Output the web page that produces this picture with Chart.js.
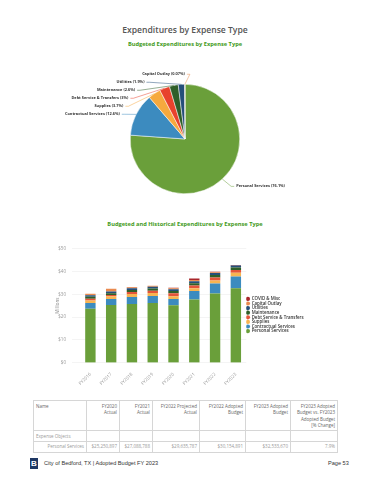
<!DOCTYPE html>
<html>
<head>
<meta charset="utf-8">
<script src="https://cdn.jsdelivr.net/npm/chart.js@4.4.1/dist/chart.umd.min.js"></script>
<style>
    html, body { margin: 0; padding: 0; background: #fff; }
    body { width: 370px; height: 480px; position: relative; overflow: hidden; font-family: "Open Sans", sans-serif; }
    .abs { position: absolute; }
    .title { left: 0; width: 370px; top: 24px; text-align: center; font-size: 8.6px; font-weight: 600; color: #555; }
    .sub { left: 0; width: 370px; text-align: center; font-size: 5.7px; font-weight: 700; color: #3f9a22; }
    #pieBox { left: 0; top: 64px; width: 370px; height: 150px; }
    #barBox { left: 0; top: 240px; width: 370px; height: 150px; }
    table { position: absolute; left: 33px; top: 400px; width: 304px; border-collapse: collapse; table-layout: fixed; font-size: 4.5px; color: #666; }
    td { border: 0.6px solid #d6d6d6; padding: 1.5px 2px; vertical-align: top; text-align: right; line-height: 6.6px; }
    td.l { text-align: left; }
    .row td { color: #999; }
    .logo { left: 30px; top: 458px; width: 8px; height: 11px; background: #1f3864; color: #fff; font: bold 8px "Liberation Sans", sans-serif; text-align: center; line-height: 11px; }
    .foot { top: 460px; font-size: 5.6px; color: #333; font-family: "Liberation Sans", sans-serif; }
</style>
</head>
<body>
<div class="abs title">Expenditures by Expense Type</div>
<div class="abs sub" style="top:40px">Budgeted Expenditures by Expense Type</div>
<div class="abs" id="pieBox"><canvas id="pieChart"></canvas></div>
<div class="abs sub" style="top:220px">Budgeted and Historical Expenditures by Expense Type</div>
<div class="abs" id="barBox"><canvas id="barChart"></canvas></div>

<table>
    <colgroup>
        <col style="width:53px"><col style="width:33px"><col style="width:33px"><col style="width:47px">
        <col style="width:46px"><col style="width:45px"><col style="width:47px">
    </colgroup>
    <tr style="height:29px">
        <td class="l">Name</td>
        <td>FY2020<br>Actual</td>
        <td>FY2021<br>Actual</td>
        <td>FY2022 Projected<br>Actual</td>
        <td>FY2022 Adopted<br>Budget</td>
        <td>FY2023 Adopted<br>Budget</td>
        <td>FY2023 Adopted<br>Budget vs. FY2023<br>Adopted Budget<br>[% Change]</td>
    </tr>
    <tr class="row"><td class="l">Expense Objects</td><td></td><td></td><td></td><td></td><td></td><td></td></tr>
    <tr class="row">
        <td>Personal Services</td><td>$25,250,897</td><td>$27,088,788</td><td>$29,635,787</td>
        <td>$30,154,891</td><td>$32,533,670</td><td>7.9%</td>
    </tr>
</table>

<div class="abs logo">B</div>
<div class="abs foot" style="left:44px">City of Bedford, TX | Adopted Budget FY 2023</div>
<div class="abs foot" style="left:328px">Page 53</div>

<script>
// 파이 차트 데이터 (FY2023 예산 비율)
const pieLabels = ['Personal Services', 'Contractual Services', 'Supplies', 'Debt Service & Transfers', 'Maintenance', 'Utilities', 'Capital Outlay'];
const pieShares = [76.1, 12.6, 3.7, 3, 2.6, 1.9, 0.07];
const pieColors = ['#6a9f3a', '#3c8bbf', '#f6a93e', '#e8432d', '#2f5f29', '#254f7a', '#e98a4f'];

// 누적 막대 차트 데이터 (백만 달러)
const years = ['FY2016', 'FY2017', 'FY2018', 'FY2019', 'FY2020', 'FY2021', 'FY2022', 'FY2023'];
const personal = [23.7, 25.3, 25.8, 26.2, 25.2, 27.7, 30.4, 32.6];
const contractual = [2.5, 2.6, 3.0, 3.1, 2.7, 3.7, 4.3, 5.2];
const supplies = [1.1, 1.2, 1.3, 1.3, 1.2, 1.3, 1.4, 1.6];
const debtService = [0.8, 0.6, 0.9, 1.0, 1.4, 1.2, 1.3, 1.3];
const maintenance = [0.8, 0.8, 0.9, 0.9, 0.9, 1.0, 1.1, 1.1];
const utilities = [0.7, 0.7, 0.7, 0.8, 0.8, 0.8, 0.8, 0.8];
const capitalOutlay = [0.6, 1.2, 0.5, 0.4, 0.4, 0.6, 0.4, 0.03];
const covidMisc = [0, 0, 0.1, 0.1, 0.3, 0.6, 0.2, 0.2];
const yTicks = [0, 10, 20, 30, 40, 50];

// 파이 라벨 + 연결선 플러그인
const pieLabelPlugin = {
    id: 'pieLabels',
    afterDatasetsDraw(chart) {
        const ctx = chart.ctx;
        const arcs = chart.getDatasetMeta(0).data;
        const left = [], right = [];
        arcs.forEach((arc, i) => {
            const mid = (arc.startAngle + arc.endAngle) / 2;
            const r = arc.outerRadius;
            const item = {
                i: i, cx: arc.x, cy: arc.y, r: r,
                ax: arc.x + r * Math.cos(mid),
                ay: arc.y + r * Math.sin(mid),
                y: arc.y + (r + 10) * Math.sin(mid)
            };
            (Math.cos(mid) < 0 ? left : right).push(item);
        });
        left.sort((a, b) => a.y - b.y);
        for (let k = 1; k < left.length; k++) {
            left[k].y = Math.max(left[k].y, left[k - 1].y + 8);
        }
        ctx.save();
        ctx.font = 'bold 3.9px "Open Sans"';
        ctx.textBaseline = 'middle';
        ctx.lineWidth = 0.5;
        const draw = (it, side) => {
            const R = it.r + 15;
            const dy = it.y - it.cy;
            let x = it.cx + side * Math.sqrt(Math.max(0, R * R - dy * dy));
            if (side < 0 && Math.abs(it.ax - it.cx) < 1) x = it.ax;
            ctx.strokeStyle = pieColors[it.i];
            ctx.beginPath();
            ctx.moveTo(x - side * 2, it.y);
            ctx.lineTo(x - side * 5, it.y);
            ctx.lineTo(it.ax, it.ay);
            ctx.stroke();
            ctx.fillStyle = '#333';
            ctx.textAlign = side < 0 ? 'right' : 'left';
            ctx.fillText(pieLabels[it.i] + ' (' + pieShares[it.i] + '%)', x, it.y);
        };
        left.forEach(it => draw(it, -1));
        right.forEach(it => draw(it, 1));
        ctx.restore();
    }
};

new Chart(document.getElementById('pieChart'), {
    type: 'pie',
    data: {
        labels: pieLabels,
        datasets: [{
            data: pieShares,
            backgroundColor: pieColors,
            borderColor: '#fff',
            borderWidth: 0.5
        }]
    },
    options: {
        responsive: true,
        maintainAspectRatio: false,
        animation: false,
        layout: { padding: { top: 20, bottom: 20 } },
        plugins: { legend: { display: false }, tooltip: { enabled: false } }
    },
    plugins: [pieLabelPlugin]
});

// 누적 막대 차트
const barSeries = [
    ['Personal Services', personal, '#6a9f3a'],
    ['Contractual Services', contractual, '#3c8bbf'],
    ['Supplies', supplies, '#f7b451'],
    ['Debt Service & Transfers', debtService, '#e4553a'],
    ['Maintenance', maintenance, '#2f5f29'],
    ['Utilities', utilities, '#254f7a'],
    ['Capital Outlay', capitalOutlay, '#e98a4f'],
    ['COVID & Misc', covidMisc, '#a8262b']
];

new Chart(document.getElementById('barChart'), {
    type: 'bar',
    data: {
        labels: years,
        datasets: barSeries.map(s => ({
            label: s[0],
            data: s[1],
            backgroundColor: s[2],
            borderWidth: 0,
            barPercentage: 0.5,
            categoryPercentage: 1
        }))
    },
    options: {
        responsive: true,
        maintainAspectRatio: false,
        animation: false,
        layout: { padding: { left: 55, right: 60, top: 0, bottom: 0 } },
        plugins: {
            tooltip: { enabled: false },
            legend: {
                position: 'right',
                reverse: true,
                labels: {
                    usePointStyle: true,
                    pointStyle: 'circle',
                    boxWidth: 3,
                    boxHeight: 3,
                    padding: 0.2,
                    color: '#333',
                    font: { family: 'Open Sans', size: 4.4, weight: '600' }
                }
            }
        },
        scales: {
            x: {
                stacked: true,
                grid: { display: false },
                border: { display: false },
                ticks: { minRotation: 45, maxRotation: 45, color: '#999', font: { family: 'Open Sans', size: 4.5 }, padding: 1 },
                afterFit(s) { s.height = 27.3; }
            },
            y: {
                stacked: true,
                min: 0,
                max: 50,
                afterBuildTicks(s) { s.ticks = yTicks.map(v => ({ value: v })); },
                grid: { color: '#ececec', lineWidth: 0.6 },
                border: { display: false },
                title: { display: true, text: 'Millions', color: '#888', font: { family: 'Open Sans', size: 4.5 }, padding: 0 },
                ticks: { color: '#999', font: { family: 'Open Sans', size: 4.5 }, padding: 6, callback: v => '$' + v },
                afterFit(s) { s.width = 25; }
            }
        }
    }
});
</script>
</body>
</html>
